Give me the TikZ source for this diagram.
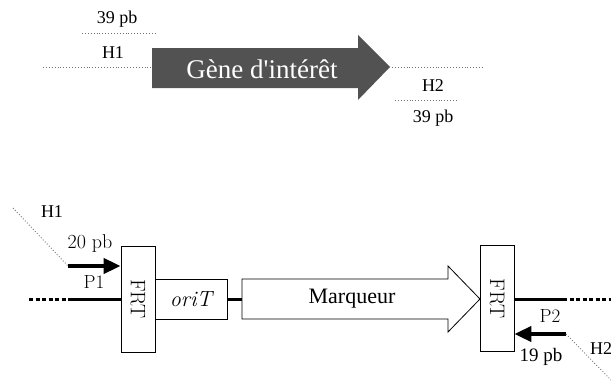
\documentclass[tikz,border=0pt]{standalone}
\usepackage{fontspec}
\usetikzlibrary{arrows.meta}
\newfontfamily\garafont{Liberation Serif}
\tikzset{
  gtxt/.style={font=\garafont\fontsize{18}{20}\selectfont, inner sep=0pt},
  ltxt/.style={font=\fontsize{19}{21}\selectfont, inner sep=0pt},
  hdot/.style={draw=black!55, dotted, line width=0.9pt},
  thickline/.style={line width=3pt},
  thickdots/.style={line width=3pt, dash pattern=on 4pt off 2.5pt},
  primer/.style={line width=4pt, -{Triangle[length=17pt,width=15pt]}},
  box/.style={draw, line width=0.8pt, fill=white, inner sep=0pt},
}
\begin{document}
\begin{tikzpicture}[x=1pt,y=-1pt]
\useasboundingbox (0,0) rectangle (611,388);
% ---------- top section ----------
\node[gtxt] (t39a) at (117,19) {39 pb};
\coordinate (a1) at (82,33); \coordinate (a2) at (157,33);
\draw[hdot] (a1) -- (a2);
\node[gtxt] (th1) at (113,53) {H1};
\coordinate (l1) at (43,67); \coordinate (l2) at (152,67);
\draw[hdot] (l1) -- (l2);
\fill[black!68] (152,48) -- (358,48) -- (358,35) -- (390,67) -- (358,100) -- (358,88) -- (152,88) -- cycle;
\node[font=\garafont\fontsize{27}{29}\selectfont, text=white, inner sep=0pt] (gene) at (262,69) {Gène d'intérêt};
\coordinate (r1) at (392,67); \coordinate (r2) at (484,67);
\draw[hdot] (r1) -- (r2);
\node[gtxt] (th2) at (433,86) {H2};
\coordinate (b1) at (395,100); \coordinate (b2) at (456,100);
\draw[hdot] (b1) -- (b2);
\node[gtxt] (t39b) at (433,118) {39 pb};
% ---------- bottom section ----------
\node[box, minimum width=34pt, minimum height=106pt] (frt1) at (138,299) {};
\node[ltxt, font=\fontsize{21}{23}\selectfont, rotate=-90] (frt1t) at (frt1) {FRT};
\node[box, minimum width=72pt, minimum height=40pt] (orit) at (191,299) {};
\node[ltxt, font=\fontsize{22}{24}\selectfont] (oritt) at (orit) {\itshape oriT};
\node[box, minimum width=34pt, minimum height=106pt] (frt2) at (497,298.5) {};
\node[ltxt, font=\fontsize{21}{23}\selectfont, rotate=-90] (frt2t) at (frt2) {FRT};
% marker arrow
\coordinate (mk) at (242,299);
\draw[line width=0.8pt, fill=white] (242,279) -- (448,279) -- (448,266) -- (480,299) -- (448,332) -- (448,319) -- (242,319) -- cycle;
\node[font=\garafont\fontsize{22}{24}\selectfont, inner sep=0pt] (mq) at (352,299) {Marqueur};
% main line
\coordinate (m0) at (29,299); \coordinate (m1) at (68,299);
\draw[thickdots] (m0) -- (m1);
\draw[thickline] (m1) -- (frt1.west |- m1);
\draw[thickline] (orit.east) -- (mk);
\coordinate (n1) at (563,299); \coordinate (n2) at (611,299);
\draw[thickline] (frt2.east |- n1) -- (n1);
\draw[thickdots] (n1) -- (n2);
% primers
\coordinate (p1s) at (68,266);
\draw[primer] (p1s) -- (p1s -| frt1.west);
\node[ltxt, font=\fontsize{20}{22}\selectfont] (t20) at (90,244) {20 pb};
\node[ltxt] (tp1) at (94,282) {P1};
\coordinate (p2s) at (566,334);
\draw[primer] (p2s) -- (p2s -| frt2.east);
\node[ltxt] (tp2) at (550,316) {P2};
\node[gtxt, font=\garafont\fontsize{19}{21}\selectfont] (t19) at (541,357) {19 pb};
% homology arms
\coordinate (h1s) at (13,208);
\draw[hdot] (h1s) -- (p1s);
\node[gtxt] (bh1) at (52,212) {H1};
\coordinate (h2e) at (611,380);
\draw[hdot] (p2s) -- (h2e);
\node[gtxt, anchor=west] (bh2) at (590,349) {H2};
\end{tikzpicture}
\end{document}
